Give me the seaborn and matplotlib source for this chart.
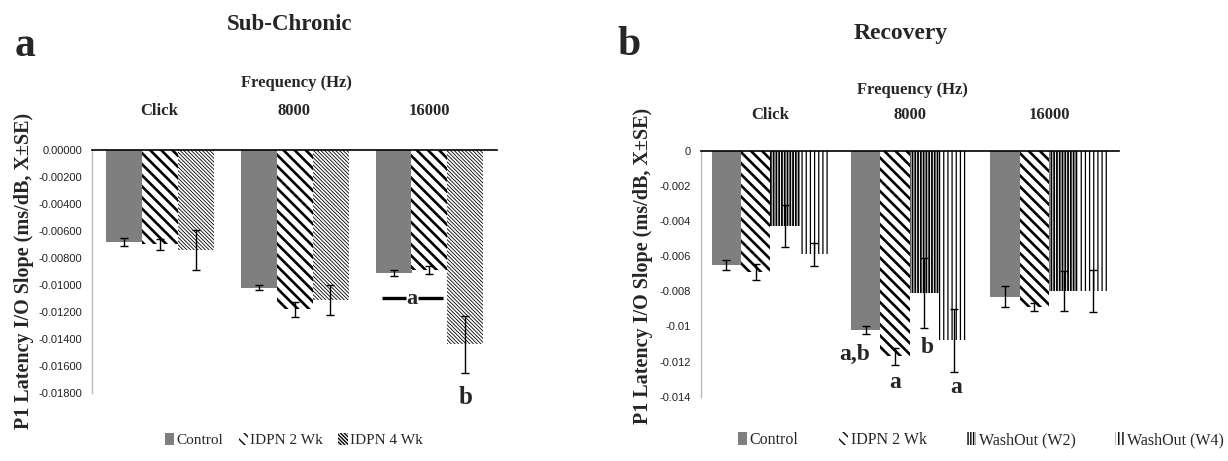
import numpy as np
import pandas as pd
import matplotlib
matplotlib.use("Agg")
import matplotlib.pyplot as plt
from matplotlib.patches import Patch
import seaborn as sns

# ---- data -------------------------------------------------------------
freqs = ["Click", "8000", "16000"]

# Sub-Chronic
groups_a = ["Control", "IDPN 2 Wk", "IDPN 4 Wk"]
ctrl_a = [-0.0068, -0.0102, -0.0091]
idpn2_a = [-0.0070, -0.0118, -0.0089]
idpn4_a = [-0.0074, -0.0111, -0.0144]
se_ctrl_a = [0.0003, 0.0002, 0.0002]
se_idpn2_a = [0.0004, 0.00055, 0.0003]
se_idpn4_a = [0.0015, 0.0011, 0.0021]

# Recovery
groups_b = ["Control", "IDPN 2 Wk", "WashOut (W2)", "WashOut (W4)"]
ctrl_b = [-0.0065, -0.0102, -0.0083]
idpn2_b = [-0.0069, -0.0117, -0.0089]
w2_b = [-0.0043, -0.0081, -0.0080]
w4_b = [-0.0059, -0.0108, -0.0080]
se_ctrl_b = [0.0003, 0.00025, 0.0006]
se_idpn2_b = [0.00044, 0.0005, 0.00024]
se_w2_b = [0.0012, 0.0020, 0.00114]
se_w4_b = [0.00066, 0.0018, 0.0012]

yticks_a = [0.0, -0.002, -0.004, -0.006, -0.008, -0.010, -0.012, -0.014, -0.016, -0.018]
yticklabels_a = ["0.00000", "-0.00200", "-0.00400", "-0.00600", "-0.00800",
                 "-0.01000", "-0.01200", "-0.01400", "-0.01600", "-0.01800"]
yticks_b = [0.0, -0.002, -0.004, -0.006, -0.008, -0.010, -0.012, -0.014]
yticklabels_b = ["0", "-0.002", "-0.004", "-0.006", "-0.008", "-0.01", "-0.012", "-0.014"]

# ---- styling ----------------------------------------------------------
sns.set_theme(style="white")
plt.rcParams["font.family"] = ["Liberation Serif", "DejaVu Serif"]
SERIF = "Liberation Serif"
SANS = "Liberation Sans"

styles = {
    "Control": dict(fc="#7f7f7f", hatch=None, hlw=1.0),
    "IDPN 2 Wk": dict(fc="white", hatch="\\" * 3, hlw=1.9),
    "IDPN 4 Wk": dict(fc="white", hatch="\\" * 9, hlw=0.6),
    "WashOut (W2)": dict(fc="white", hatch="|" * 6, hlw=1.3),
    "WashOut (W4)": dict(fc="white", hatch="|" * 4, hlw=0.9),
}


def style_patch(p, name):
    st = styles[name]
    p.set_facecolor(st["fc"])
    p.set_edgecolor("black")
    p.set_linewidth(0)
    if st["hatch"]:
        p.set_hatch(st["hatch"])
        if hasattr(p, "set_hatch_linewidth"):
            p.set_hatch_linewidth(st["hlw"])


def long_frame(groups, series):
    rows = []
    for g, vals in zip(groups, series):
        for f, v in zip(freqs, vals):
            rows.append({"freq": f, "group": g, "value": v})
    return pd.DataFrame(rows)


def panel(ax, groups, series, ses, width, ylim, yticks, yticklabels, label_pad):
    df = long_frame(groups, series)
    sns.barplot(data=df, x="freq", y="value", hue="group", order=freqs,
                hue_order=groups, width=width, gap=0, errorbar=None,
                legend=False, ax=ax, saturation=1)
    centers = {}
    for cont, g, se in zip(ax.containers, groups, ses):
        xs, ys = [], []
        for p in cont.patches:
            style_patch(p, g)
            xs.append(p.get_x() + p.get_width() / 2)
            ys.append(p.get_height())
        ax.errorbar(xs, ys, yerr=se, fmt="none", ecolor="black",
                    elinewidth=1.0, capsize=3, capthick=1.0, zorder=5)
        centers[g] = (xs, [p.get_width() for p in cont.patches])
    ax.set_ylim(*ylim)
    ax.set_xlim(-0.5, 2.5)
    ax.set_yticks(yticks)
    ax.set_yticklabels(yticklabels, fontsize=8, family=SANS, color="#222222")
    ax.xaxis.tick_top()
    ax.set_xticks(range(len(freqs)))
    ax.set_xticklabels(freqs, fontsize=12, fontweight="bold", family=SERIF)
    ax.tick_params(axis="both", length=0)
    ax.tick_params(axis="x", pad=label_pad)
    ax.tick_params(axis="y", pad=7)
    ax.set_xlabel("")
    ax.set_ylabel("")
    for s in ["bottom", "right"]:
        ax.spines[s].set_visible(False)
    ax.spines["top"].set_color("black")
    ax.spines["top"].set_linewidth(1.2)
    ax.spines["left"].set_color("#bbbbbb")
    ax.spines["left"].set_linewidth(1.0)
    return centers


fig = plt.figure(figsize=(12.28, 4.61), dpi=100)
W, H = 1228, 461


def ax_at(x0, y0, x1, y1):
    return fig.add_axes([x0 / W, 1 - y1 / H, (x1 - x0) / W, (y1 - y0) / H])


ax_a = ax_at(92, 150, 497, 393)
ax_b = ax_at(700.7, 150.7, 1118.6, 396.7)

cen_a = panel(ax_a, groups_a, [ctrl_a, idpn2_a, idpn4_a],
              [se_ctrl_a, se_idpn2_a, se_idpn4_a], 0.8, (-0.018, 0.0),
              yticks_a, yticklabels_a, 22)
cen_b = panel(ax_b, groups_b, [ctrl_b, idpn2_b, w2_b, w4_b],
              [se_ctrl_b, se_idpn2_b, se_w2_b, se_w4_b], 0.84, (-0.014, 0.0),
              yticks_b, yticklabels_b, 20)

# ---- significance letters ---------------------------------------------
bold = dict(fontweight="bold", family=SERIF, ha="center", va="center", clip_on=False)

# panel a: Control vs IDPN 2 Wk at 16000 share "a", IDPN 4 Wk gets "b"
xc, wc = cen_a["Control"][0][2], cen_a["Control"][1][2]
xb = xc + wc / 2
ya = -0.01096
ax_a.plot([xb - 0.215, xb - 0.04], [ya, ya], color="black", lw=2.4, solid_capstyle="butt")
ax_a.plot([xb + 0.05, xb + 0.23], [ya, ya], color="black", lw=2.4, solid_capstyle="butt")
ax_a.text(xb + 0.005, ya - 0.0001, "a", fontsize=16, **bold)
ax_a.text(cen_a["IDPN 4 Wk"][0][2], -0.01837, "b", fontsize=18, **bold)

# panel b: 8000 Hz
ax_b.text(cen_b["Control"][0][1] - 0.08, -0.01161, "a,b", fontsize=17, **bold)
ax_b.text(cen_b["IDPN 2 Wk"][0][1], -0.0132, "a", fontsize=17, **bold)
ax_b.text(cen_b["WashOut (W2)"][0][1] + 0.02, -0.01121, "b", fontsize=17, **bold)
ax_b.text(cen_b["WashOut (W4)"][0][1] + 0.02, -0.01348, "a", fontsize=17, **bold)

# ---- titles and axis labels -------------------------------------------
def ftext(x, y, s, **kw):
    fig.text(x / W, 1 - y / H, s, ha="center", va="center", family=SERIF, **kw)


ylabel = "P1 Latency I/O Slope (ms/dB, X\u00b1SE)"
ftext(25, 46, "a", fontsize=30, fontweight="bold")
ftext(290, 25, "Sub-Chronic", fontsize=16.5, fontweight="bold")
ftext(296, 83, "Frequency (Hz)", fontsize=12, fontweight="bold")
ftext(24, 271, ylabel, fontsize=14.5, fontweight="bold", rotation=90)

ftext(629, 45, "b", fontsize=30, fontweight="bold")
ftext(901, 33, "Recovery", fontsize=17, fontweight="bold")
ftext(912, 90, "Frequency (Hz)", fontsize=12, fontweight="bold")
ftext(643, 266, ylabel, fontsize=14.5, fontweight="bold", rotation=90)

# ---- legends ----------------------------------------------------------
def legend_handles(groups):
    hs = []
    for g in groups:
        p = Patch(label=g)
        style_patch(p, g)
        hs.append(p)
    return hs


for ax, groups, cx, size, colsp in [(ax_a, groups_a, 294, 11, 1.0),
                                    (ax_b, groups_b, 981, 11.5, 2.5)]:
    ax.legend(handles=legend_handles(groups), loc="center",
              bbox_to_anchor=(cx / W, 1 - 440 / H), bbox_transform=fig.transFigure,
              ncol=len(groups), frameon=False, handlelength=0.6, handleheight=0.8,
              handletextpad=0.15, columnspacing=colsp,
              prop={"family": SERIF, "size": size})

fig.savefig("out.png", dpi=100)
